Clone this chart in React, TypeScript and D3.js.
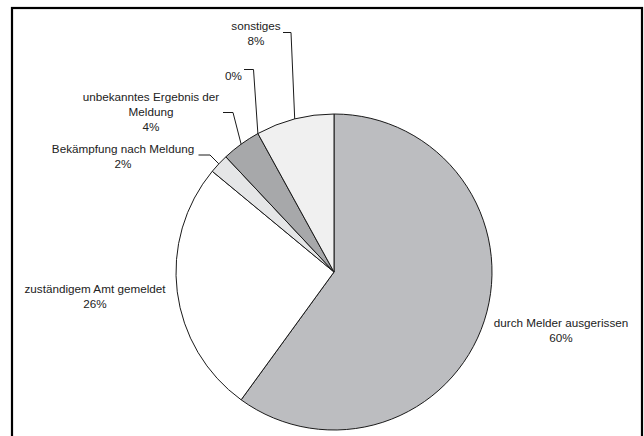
import React from "react";
import * as d3 from "d3";

// Outcome categories, clockwise from 12 o'clock
const categories = [
  "durch Melder ausgerissen",
  "zuständigem Amt gemeldet",
  "Bekämpfung nach Meldung",
  "unbekanntes Ergebnis der Meldung",
  "",
  "sonstiges",
];
const shares = [60, 26, 2, 4, 0, 8];
const fills = ["#bcbdc0", "#ffffff", "#e5e6e7", "#a7a8aa", "#d0d0d0", "#f0f0f0"];

// Label text lines (name lines followed by percentage)
const labelLines = [
  ["durch Melder ausgerissen"],
  ["zuständigem Amt gemeldet"],
  ["Bekämpfung nach Meldung"],
  ["unbekanntes Ergebnis der", "Meldung"],
  [],
  ["sonstiges"],
];

// Label placement: centre x, first baseline, optional leader (x0, x1, y)
const labelPos = [
  { x: 561, y: 326.5, leader: null },
  { x: 95, y: 292.5, leader: null },
  { x: 123, y: 152.5, leader: [198.5, 210, 155] },
  { x: 151, y: 101, leader: [223, 233, 112.5] },
  { x: 233.5, y: 80, leader: [244, 253.5, 69.5] },
  { x: 256, y: 30, leader: [283, 291, 32.5] },
];

const W = 644;
const H = 436;
const cx = 334;
const cy = 272;
const R = 158;
const LINE = 15;

export default function App() {
  const data = categories.map((c, i) => ({ name: c, value: shares[i], idx: i }));
  const pie = d3
    .pie<{ name: string; value: number; idx: number }>()
    .sort(null)
    .value((d) => d.value);
  const arcs = pie(data);
  const arc = d3
    .arc<d3.PieArcDatum<{ name: string; value: number; idx: number }>>()
    .innerRadius(0)
    .outerRadius(R);

  const edgePoint = (a: d3.PieArcDatum<any>) => {
    const m = (a.startAngle + a.endAngle) / 2;
    return [cx + R * Math.sin(m), cy - R * Math.cos(m)];
  };

  return (
    <svg
      width={W}
      height={H}
      style={{ position: "absolute", left: 0, top: 0, background: "#fff" }}
      fontFamily="'Liberation Sans', Arial, sans-serif"
      fontSize={11.7}
    >
      <rect x={12} y={8} width={630} height={440} fill="#fff" stroke="#000" strokeWidth={2.2} />
      <g transform={`translate(${cx},${cy})`}>
        {arcs.map((a, i) =>
          a.value > 0 ? (
            <path key={i} d={arc(a) || ""} fill={fills[i]} stroke="#1a1a1a" strokeWidth={1} />
          ) : null
        )}
      </g>
      {arcs.map((a, i) => {
        const p = labelPos[i];
        const lines = [...labelLines[i], `${shares[i]}%`];
        const [ex, ey] = edgePoint(a);
        return (
          <g key={`l${i}`}>
            {p.leader && (
              <polyline
                points={`${p.leader[0]},${p.leader[2]} ${p.leader[1]},${p.leader[2]} ${ex},${ey}`}
                fill="none"
                stroke="#1a1a1a"
                strokeWidth={1}
              />
            )}
            <text textAnchor="middle" fill="#222">
              {lines.map((t, k) => (
                <tspan key={k} x={p.x} y={p.y + k * LINE}>
                  {t}
                </tspan>
              ))}
            </text>
          </g>
        );
      })}
    </svg>
  );
}
